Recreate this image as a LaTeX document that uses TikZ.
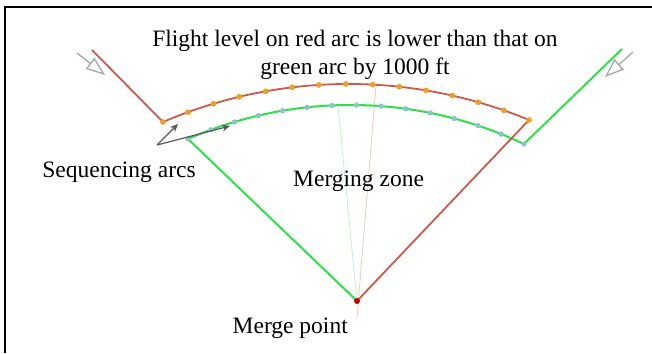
\documentclass[tikz,border=0pt]{standalone}
\usepackage{fontspec}
\setmainfont{Liberation Serif}
\usepackage{xcolor}
\usetikzlibrary{arrows.meta,calc}
\definecolor{redarc}{HTML}{CC5A48}
\definecolor{greenarc}{HTML}{2EE04A}
\definecolor{dotorange}{HTML}{F0A028}
\definecolor{dotblue}{HTML}{8CC4CC}

\begin{document}
\begin{tikzpicture}[
  x=1pt, y=1pt,
  font=\fontsize{23.5}{28.4}\selectfont,
  redpath/.style={draw=redarc, line width=1.8pt, line join=round},
  greenpath/.style={draw=greenarc, line width=2pt, line join=round},
  faint/.style={line width=0.9pt, opacity=0.3},
  inflow/.style={draw=gray!70, line width=1.3pt, -{Triangle[open, length=19pt, width=14pt]}},
  seq/.style={draw=black!65, line width=1.2pt, -{Stealth[length=8pt, width=7pt]}},
  lbl/.style={inner sep=0pt}]
\useasboundingbox (0,0) rectangle (652,353);
% frame
\draw[line width=2pt] (5,0) -- (5,346) -- (652,346);
% route points
\coordinate (merge) at (357,52);
\coordinate (redin) at (92,303);
\coordinate (redL) at (163,231);
\coordinate (greenout) at (622,304);
\coordinate (greenL) at (188,214);
\coordinate (redc) at (348.4,-202.1);
\coordinate (greenc) at (350.5,-157);
% faint radials
\draw[faint, greenarc] (merge) -- (338,247);
\draw[faint, redarc] (357,35) -- (376,267);
% routes
\draw[greenpath] (merge) -- (greenL) arc[start angle=113.65, end angle=64.64, radius=405] -- (greenout);
\draw[redpath] (redin) -- (redL) arc[start angle=113.18, end angle=67.46, radius=471.1] -- (merge);
% sequencing points
\foreach \i in {0,...,14} {
  \fill[dotblue] ($(greenc)+({113.65-\i*3.5}:405)$) circle (2.7);
  \fill[dotorange] ($(redc)+({113.18-\i*3.266}:471.1)$) circle (2.9);
}
\fill[red!75!black] (merge) circle (3);
% inflow arrows
\coordinate (inL) at (77,300);
\coordinate (inLtip) at (105,278);
\coordinate (inR) at (633,301);
\coordinate (inRtip) at (605,276);
\draw[inflow] (inL) -- (inLtip);
\draw[inflow] (inR) -- (inRtip);
% sequencing arrows
\coordinate (seqo) at (157,208);
\coordinate (seqred) at (178,229);
\coordinate (seqgreen) at (230,227);
\draw[seq] (seqo) -- (seqred);
\draw[seq] (seqo) -- (seqgreen);
% labels
\node[lbl, anchor=north, align=center] (note) at (355,323) {Flight level on red arc is lower than that on\\green arc by 1000 ft};
\node[lbl, anchor=base] (seqlbl) at (119,175) {Sequencing arcs};
\node[lbl, anchor=base west] (zonelbl) at (293,166) {Merging zone};
\node[lbl, anchor=base east] (mergelbl) at (348,20) {Merge point};
\end{tikzpicture}
\end{document}
